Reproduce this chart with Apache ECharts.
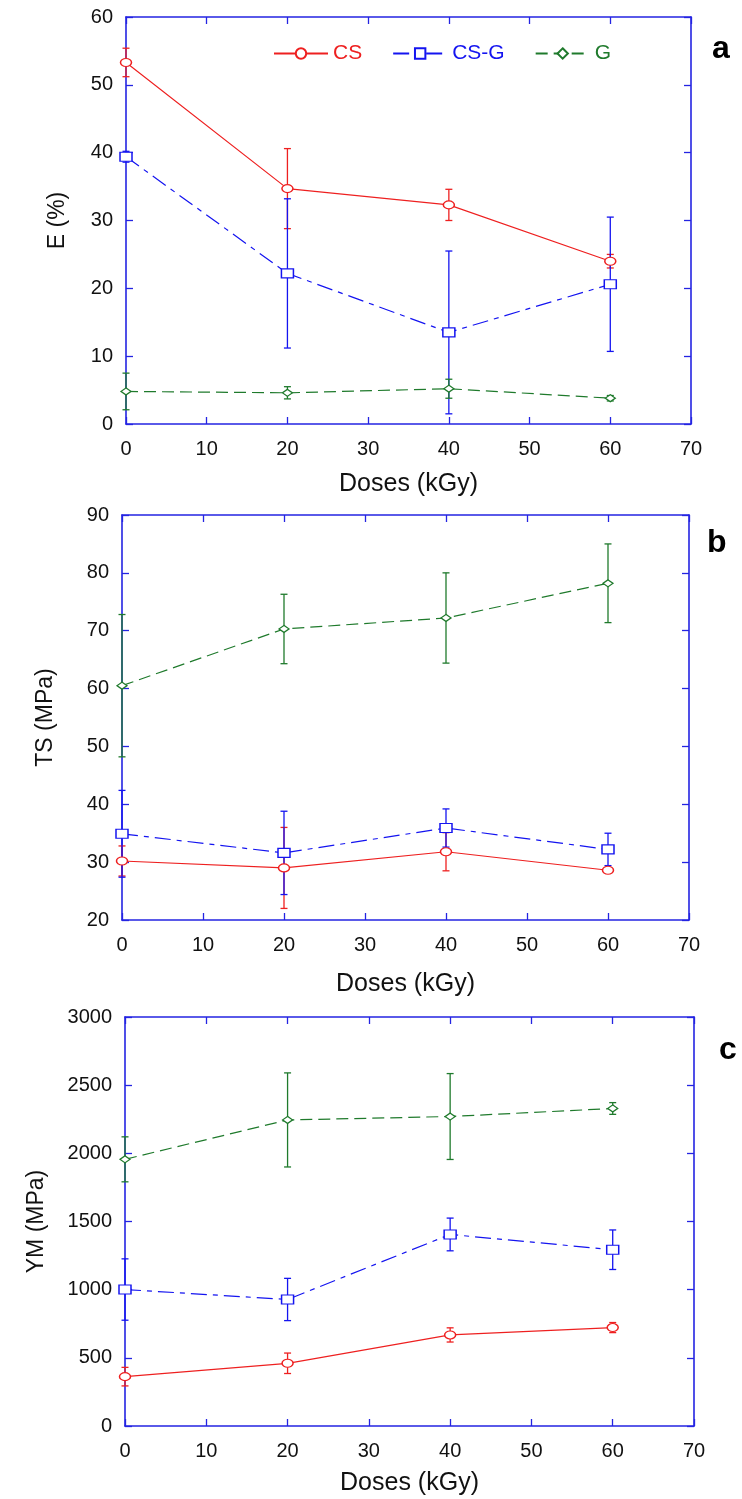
<!DOCTYPE html>
<html>
<head>
<meta charset="utf-8">
<script src="https://cdn.jsdelivr.net/npm/echarts@6/dist/echarts.min.js"></script>
<style>
html,body{margin:0;padding:0;background:#fff;}
#chart{width:742px;height:1499px;}
</style>
</head>
<body>
<div id="chart"></div>
<script>
// ---------- data ----------
var doses = [0, 20, 40, 60];
var xTicks = [0, 10, 20, 30, 40, 50, 60, 70];
var seriesNames = ['CS', 'CS-G', 'G'];

// (a) Elongation E (%)
var E_CS = [53.3, 34.7, 32.3, 24.0];
var E_CS_err = [2.1, 5.9, 2.3, 1.0];
var E_CSG = [39.4, 22.2, 13.5, 20.6];
var E_CSG_err = [0.8, 11.0, 12.0, 9.9];
var E_G = [4.8, 4.6, 5.2, 3.8];
var E_G_err = [2.7, 0.9, 1.4, 0.4];

// (b) Tensile strength TS (MPa)
var TS_CS = [30.2, 29.0, 31.8, 28.6];
var TS_CS_err = [2.6, 7.0, 3.3, 0.3];
var TS_CSG = [34.9, 31.6, 35.9, 32.2];
var TS_CSG_err = [7.5, 7.2, 3.3, 2.8];
var TS_G = [60.5, 70.3, 72.2, 78.2];
var TS_G_err = [12.3, 6.0, 7.8, 6.8];

// (c) Young's modulus YM (MPa)
var YM_CS = [362, 460, 668, 722];
var YM_CS_err = [68, 75, 52, 37];
var YM_CSG = [1001, 928, 1405, 1293];
var YM_CSG_err = [225, 155, 120, 145];
var YM_G = [1956, 2245, 2270, 2329];
var YM_G_err = [165, 345, 315, 43];

// ---------- styling ----------
var FONT = "'Liberation Sans', Arial, sans-serif";
var AXIS_BLUE = '#2424e2';
var COL = { 'CS': '#ee2020', 'CS-G': '#1414f0', 'G': '#1f7a2c' };
var DASH = { 'CS': 'solid', 'CS-G': [16, 6, 5, 6], 'G': [12, 6] };
var SYM = { 'CS': 'circle', 'CS-G': 'rect', 'G': 'diamond' };
var SYMSIZE = { 'CS': [11, 8], 'CS-G': [12, 9], 'G': [10, 7] };

var grids = [
  { left: 126, top: 17, right: 51, height: 407 },
  { left: 122, top: 515, right: 53, height: 405 },
  { left: 125, top: 1017, right: 48, height: 409 }
];
var yCfg = [
  { min: 0, max: 60, interval: 10, name: 'E (%)', nameGap: 57 },
  { min: 20, max: 90, interval: 10, name: 'TS (MPa)', nameGap: 65 },
  { min: 0, max: 3000, interval: 500, name: 'YM (MPa)', nameGap: 77 }
];
var xNameGap = [48, 52, 45];

function zip(xs, ys, es) {
  return xs.map(function (x, i) { return [x, ys[i], es[i]]; });
}
function pts(xs, ys) {
  return xs.map(function (x, i) { return [x, ys[i]]; });
}
function plain(v) { return String(v); }

var xAxes = [], yAxes = [];
grids.forEach(function (g, i) {
  var tick = { show: true, inside: true, length: 7, lineStyle: { color: AXIS_BLUE, width: 1.3 } };
  var line = { show: true, onZero: false, lineStyle: { color: AXIS_BLUE, width: 1.6 } };
  xAxes.push({
    type: 'value', gridIndex: i, position: 'bottom', min: 0, max: 70, interval: 10,
    name: 'Doses (kGy)', nameLocation: 'middle', nameGap: xNameGap[i],
    nameTextStyle: { fontFamily: FONT, fontSize: 25, color: '#111' },
    axisLine: line, axisTick: tick, splitLine: { show: false },
    axisLabel: { fontFamily: FONT, fontSize: 20, color: '#111', margin: 15, formatter: plain }
  });
  xAxes.push({
    type: 'value', gridIndex: i, position: 'top', min: 0, max: 70, interval: 10,
    axisLine: line, axisTick: tick, splitLine: { show: false }, axisLabel: { show: false }
  });
  var y = yCfg[i];
  yAxes.push({
    type: 'value', gridIndex: i, position: 'left', min: y.min, max: y.max, interval: y.interval,
    name: y.name, nameLocation: 'middle', nameGap: y.nameGap, nameRotate: 90,
    nameTextStyle: { fontFamily: FONT, fontSize: 23, color: '#111' },
    axisLine: line, axisTick: tick, splitLine: { show: false },
    axisLabel: { fontFamily: FONT, fontSize: 20, color: '#111', margin: 13, formatter: plain }
  });
  yAxes.push({
    type: 'value', gridIndex: i, position: 'right', min: y.min, max: y.max, interval: y.interval,
    axisLine: line, axisTick: tick, splitLine: { show: false }, axisLabel: { show: false }
  });
});

function errRender(color) {
  return function (params, api) {
    var x = api.value(0), y = api.value(1), e = api.value(2);
    var t = api.coord([x, y + e]), b = api.coord([x, y - e]);
    var w = 3.5;
    var st = { stroke: color, lineWidth: 1.3 };
    return {
      type: 'group',
      children: [
        { type: 'line', shape: { x1: t[0], y1: t[1], x2: b[0], y2: b[1] }, style: st },
        { type: 'line', shape: { x1: t[0] - w, y1: t[1], x2: t[0] + w, y2: t[1] }, style: st },
        { type: 'line', shape: { x1: b[0] - w, y1: b[1], x2: b[0] + w, y2: b[1] }, style: st }
      ]
    };
  };
}

var panelData = [
  { 'CS': [E_CS, E_CS_err], 'CS-G': [E_CSG, E_CSG_err], 'G': [E_G, E_G_err] },
  { 'CS': [TS_CS, TS_CS_err], 'CS-G': [TS_CSG, TS_CSG_err], 'G': [TS_G, TS_G_err] },
  { 'CS': [YM_CS, YM_CS_err], 'CS-G': [YM_CSG, YM_CSG_err], 'G': [YM_G, YM_G_err] }
];

var series = [];
panelData.forEach(function (pd, i) {
  seriesNames.forEach(function (n) {
    series.push({
      name: n + ' error', type: 'custom', xAxisIndex: 2 * i, yAxisIndex: 2 * i,
      renderItem: errRender(COL[n]), encode: { x: 0, y: 1 },
      data: zip(doses, pd[n][0], pd[n][1]), silent: true, z: 2
    });
  });
  seriesNames.forEach(function (n) {
    series.push({
      name: n, type: 'line', xAxisIndex: 2 * i, yAxisIndex: 2 * i,
      data: pts(doses, pd[n][0]),
      symbol: SYM[n], symbolSize: SYMSIZE[n], showAllSymbol: true,
      itemStyle: { color: '#fff', borderColor: COL[n], borderWidth: 1.3 },
      lineStyle: { color: COL[n], width: 1.2, type: DASH[n] },
      emphasis: { disabled: true }, animation: false, z: 3
    });
  });
});

var option = {
  animation: false,
  backgroundColor: '#fff',
  grid: grids,
  xAxis: xAxes,
  yAxis: yAxes,
  legend: {
    data: seriesNames.map(function (n) {
      return { name: n, textStyle: { color: COL[n] } };
    }),
    left: 268, top: 38, itemWidth: 54, itemHeight: 13, itemGap: 30,
    textStyle: { fontFamily: FONT, fontSize: 21 },
    selectedMode: false
  },
  graphic: [
    { type: 'text', left: 712, top: 33, style: { text: 'a', font: 'bold 32px ' + FONT, fill: '#000' } },
    { type: 'text', left: 707, top: 527, style: { text: 'b', font: 'bold 32px ' + FONT, fill: '#000' } },
    { type: 'text', left: 719, top: 1034, style: { text: 'c', font: 'bold 32px ' + FONT, fill: '#000' } }
  ],
  series: series
};

var chart = echarts.init(document.getElementById('chart'), null, { renderer: 'canvas' });
chart.setOption(option);
</script>
</body>
</html>
